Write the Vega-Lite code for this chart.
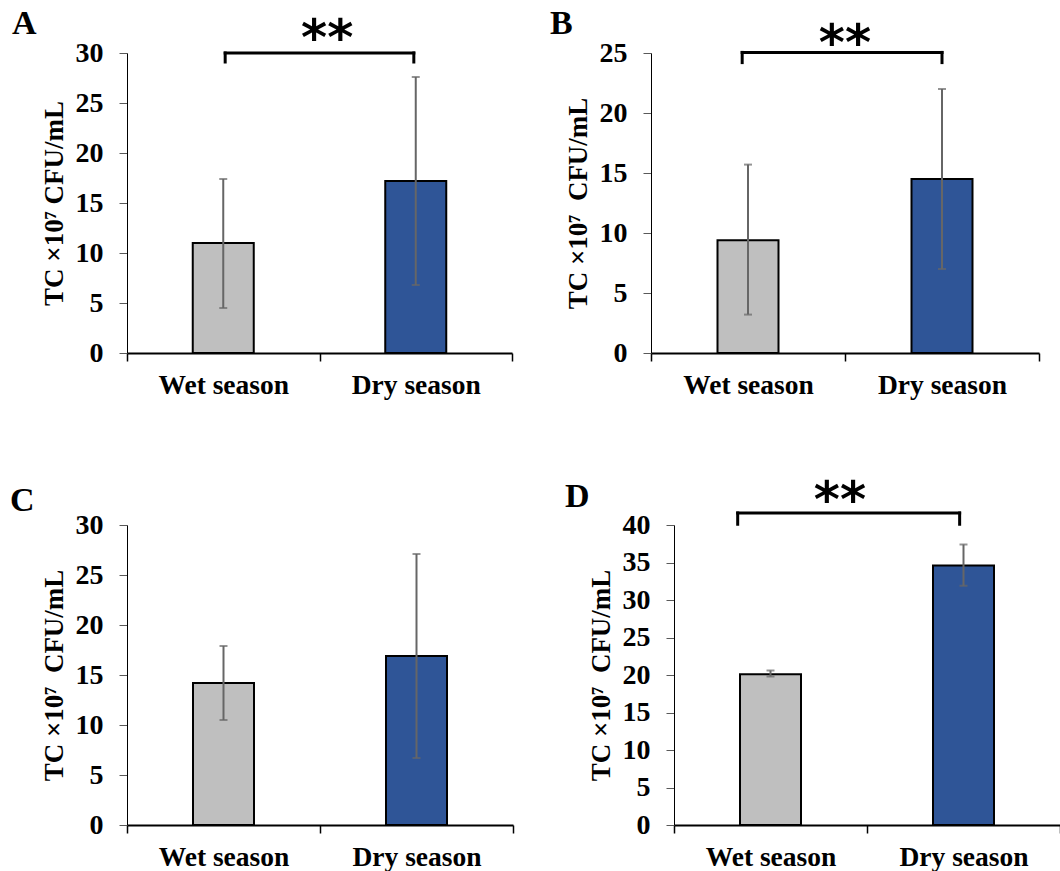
{
  "$schema": "https://vega.github.io/schema/vega-lite/v6.json",
  "background": "white",
  "padding": {"left": 10, "top": 6, "right": 0, "bottom": 0},
  "datasets": {
    "bars": [
      {"panel": "A", "season": "Wet season", "mean": 11.0, "lo": 4.5, "hi": 17.4},
      {"panel": "A", "season": "Dry season", "mean": 17.2, "lo": 6.8, "hi": 27.6},
      {"panel": "B", "season": "Wet season", "mean": 9.4, "lo": 3.2, "hi": 15.7},
      {"panel": "B", "season": "Dry season", "mean": 14.5, "lo": 7.0, "hi": 22.0},
      {"panel": "C", "season": "Wet season", "mean": 14.2, "lo": 10.5, "hi": 17.9},
      {"panel": "C", "season": "Dry season", "mean": 16.9, "lo": 6.7, "hi": 27.1},
      {"panel": "D", "season": "Wet season", "mean": 20.1, "lo": 19.8, "hi": 20.6},
      {"panel": "D", "season": "Dry season", "mean": 34.6, "lo": 31.9, "hi": 37.4}
    ],
    "brackets": [
      {"panel": "A", "left": "Wet season", "right": "Dry season", "top": 30.0, "bottom": 29.1, "label": "**", "at": "Dry season", "ly": 31.3},
      {"panel": "B", "left": "Wet season", "right": "Dry season", "top": 25.05, "bottom": 24.2, "label": "**", "at": "Dry season", "ly": 25.7},
      {"panel": "D", "left": "Wet season", "right": "Dry season", "top": 41.6, "bottom": 40.1, "label": "**", "at": "Wet season", "ly": 43.1}
    ]
  },
  "config": {
    "view": {"stroke": null},
    "font": "Liberation Serif",
    "title": {"font": "Liberation Serif", "fontSize": 34, "fontWeight": "bold", "color": "black", "anchor": "start", "frame": "group"},
    "axisY": {
      "domainColor": "black", "domainWidth": 1, "tickColor": "#595959", "tickWidth": 1, "tickSize": 8,
      "labelFont": "Liberation Serif", "labelFontSize": 28, "labelFontWeight": "bold", "labelColor": "black", "labelPadding": 16,
      "titleFont": "Liberation Serif", "titleFontSize": 27, "titleFontWeight": "bold", "titleColor": "black", "titlePadding": 7,
      "grid": false, "labelFlush": false, "labelOverlap": false
    },
    "axisX": {
      "domainColor": "black", "domainWidth": 2, "tickColor": "black", "tickWidth": 1.5, "tickSize": 8, "tickBand": "extent",
      "labelFont": "Liberation Serif", "labelFontSize": 27.5, "labelFontWeight": "bold", "labelColor": "black", "labelPadding": 10, "labelAngle": 0,
      "grid": false
    }
  },
  "spacing": 77,
  "vconcat": [
    {
      "bounds": "flush",
      "spacing": 139,
      "hconcat": [
        {
          "width": 385, "height": 300,
          "title": {"text": "A", "dx": -115, "offset": -26},
          "layer": [
            {
              "data": {"name": "bars"}, "transform": [{"filter": "datum.panel === 'A'"}],
              "mark": {"type": "bar", "width": 61, "stroke": "black", "strokeWidth": 2},
              "encoding": {
                "x": {"field": "season", "type": "nominal", "sort": null, "scale": {"domain": ["Wet season", "Dry season"], "paddingInner": 0, "paddingOuter": 0}, "axis": {"title": null}},
                "y": {"field": "mean", "type": "quantitative", "scale": {"domain": [0, 30], "nice": false}, "axis": {"values": [0, 5, 10, 15, 20, 25, 30], "title": "TC ×10⁷ CFU/mL"}},
                "fill": {"field": "season", "type": "nominal", "scale": {"domain": ["Wet season", "Dry season"], "range": ["#BFBFBF", "#2F5597"]}, "legend": null}
              }
            },
            {
              "data": {"name": "bars"}, "transform": [{"filter": "datum.panel === 'A'"}],
              "mark": {"type": "rule", "color": "#666666", "strokeWidth": 2},
              "encoding": {
                "x": {"field": "season", "type": "nominal", "sort": null, "scale": {"domain": ["Wet season", "Dry season"]}, "axis": {"title": null}},
                "y": {"field": "lo", "type": "quantitative", "scale": {"domain": [0, 30]}, "axis": {"values": [0, 5, 10, 15, 20, 25, 30], "title": "TC ×10⁷ CFU/mL"}},
                "y2": {"field": "hi"}
              }
            },
            {
              "data": {"name": "bars"}, "transform": [{"filter": "datum.panel === 'A'"}],
              "mark": {"type": "tick", "orient": "horizontal", "size": 8, "thickness": 2, "color": "#666666"},
              "encoding": {
                "x": {"field": "season", "type": "nominal", "sort": null, "scale": {"domain": ["Wet season", "Dry season"]}, "axis": {"title": null}},
                "y": {"field": "lo", "type": "quantitative", "scale": {"domain": [0, 30]}, "axis": {"values": [0, 5, 10, 15, 20, 25, 30], "title": "TC ×10⁷ CFU/mL"}}
              }
            },
            {
              "data": {"name": "bars"}, "transform": [{"filter": "datum.panel === 'A'"}],
              "mark": {"type": "tick", "orient": "horizontal", "size": 8, "thickness": 2, "color": "#666666"},
              "encoding": {
                "x": {"field": "season", "type": "nominal", "sort": null, "scale": {"domain": ["Wet season", "Dry season"]}, "axis": {"title": null}},
                "y": {"field": "hi", "type": "quantitative", "scale": {"domain": [0, 30]}, "axis": {"values": [0, 5, 10, 15, 20, 25, 30], "title": "TC ×10⁷ CFU/mL"}}
              }
            },
            {
              "data": {"name": "brackets"}, "transform": [{"filter": "datum.panel === 'A'"}],
              "mark": {"type": "rule", "color": "black", "strokeWidth": 3, "strokeCap": "square"},
              "encoding": {
                "x": {"field": "left", "type": "nominal", "sort": null, "scale": {"domain": ["Wet season", "Dry season"]}, "axis": {"title": null}, "bandPosition": 0.51},
                "x2": {"field": "right", "bandPosition": 0.49},
                "y": {"field": "top", "type": "quantitative", "scale": {"domain": [0, 30]}, "axis": {"values": [0, 5, 10, 15, 20, 25, 30], "title": "TC ×10⁷ CFU/mL"}}
              }
            },
            {
              "data": {"name": "brackets"}, "transform": [{"filter": "datum.panel === 'A'"}],
              "mark": {"type": "rule", "color": "black", "strokeWidth": 3, "strokeCap": "square"},
              "encoding": {
                "x": {"field": "left", "type": "nominal", "sort": null, "scale": {"domain": ["Wet season", "Dry season"]}, "axis": {"title": null}, "bandPosition": 0.51},
                "y": {"field": "top", "type": "quantitative", "scale": {"domain": [0, 30]}, "axis": {"values": [0, 5, 10, 15, 20, 25, 30], "title": "TC ×10⁷ CFU/mL"}},
                "y2": {"field": "bottom"}
              }
            },
            {
              "data": {"name": "brackets"}, "transform": [{"filter": "datum.panel === 'A'"}],
              "mark": {"type": "rule", "color": "black", "strokeWidth": 3, "strokeCap": "square"},
              "encoding": {
                "x": {"field": "right", "type": "nominal", "sort": null, "scale": {"domain": ["Wet season", "Dry season"]}, "axis": {"title": null}, "bandPosition": 0.49},
                "y": {"field": "top", "type": "quantitative", "scale": {"domain": [0, 30]}, "axis": {"values": [0, 5, 10, 15, 20, 25, 30], "title": "TC ×10⁷ CFU/mL"}},
                "y2": {"field": "bottom"}
              }
            },
            {
              "data": {"name": "brackets"}, "transform": [{"filter": "datum.panel === 'A'"}],
              "mark": {"type": "text", "font": "DejaVu Sans", "fontWeight": "bold", "fontSize": 50, "baseline": "middle", "align": "center", "color": "black"},
              "encoding": {
                "x": {"field": "at", "type": "nominal", "sort": null, "scale": {"domain": ["Wet season", "Dry season"]}, "axis": {"title": null}, "bandPosition": 0.04},
                "y": {"field": "ly", "type": "quantitative", "scale": {"domain": [0, 30]}, "axis": {"values": [0, 5, 10, 15, 20, 25, 30], "title": "TC ×10⁷ CFU/mL"}},
                "text": {"field": "label"}
              }
            }
          ]
        },
        {
          "width": 388, "height": 300,
          "title": {"text": "B", "dx": -101, "offset": -21},
          "layer": [
            {
              "data": {"name": "bars"}, "transform": [{"filter": "datum.panel === 'B'"}],
              "mark": {"type": "bar", "width": 61, "stroke": "black", "strokeWidth": 2},
              "encoding": {
                "x": {"field": "season", "type": "nominal", "sort": null, "scale": {"domain": ["Wet season", "Dry season"], "paddingInner": 0, "paddingOuter": 0}, "axis": {"title": null}},
                "y": {"field": "mean", "type": "quantitative", "scale": {"domain": [0, 25], "nice": false}, "axis": {"values": [0, 5, 10, 15, 20, 25], "title": "TC ×10⁷\u00a0 CFU/mL"}},
                "fill": {"field": "season", "type": "nominal", "scale": {"domain": ["Wet season", "Dry season"], "range": ["#BFBFBF", "#2F5597"]}, "legend": null}
              }
            },
            {
              "data": {"name": "bars"}, "transform": [{"filter": "datum.panel === 'B'"}],
              "mark": {"type": "rule", "color": "#666666", "strokeWidth": 2},
              "encoding": {
                "x": {"field": "season", "type": "nominal", "sort": null, "scale": {"domain": ["Wet season", "Dry season"]}, "axis": {"title": null}},
                "y": {"field": "lo", "type": "quantitative", "scale": {"domain": [0, 25]}, "axis": {"values": [0, 5, 10, 15, 20, 25], "title": "TC ×10⁷\u00a0 CFU/mL"}},
                "y2": {"field": "hi"}
              }
            },
            {
              "data": {"name": "bars"}, "transform": [{"filter": "datum.panel === 'B'"}],
              "mark": {"type": "tick", "orient": "horizontal", "size": 8, "thickness": 2, "color": "#666666"},
              "encoding": {
                "x": {"field": "season", "type": "nominal", "sort": null, "scale": {"domain": ["Wet season", "Dry season"]}, "axis": {"title": null}},
                "y": {"field": "lo", "type": "quantitative", "scale": {"domain": [0, 25]}, "axis": {"values": [0, 5, 10, 15, 20, 25], "title": "TC ×10⁷\u00a0 CFU/mL"}}
              }
            },
            {
              "data": {"name": "bars"}, "transform": [{"filter": "datum.panel === 'B'"}],
              "mark": {"type": "tick", "orient": "horizontal", "size": 8, "thickness": 2, "color": "#666666"},
              "encoding": {
                "x": {"field": "season", "type": "nominal", "sort": null, "scale": {"domain": ["Wet season", "Dry season"]}, "axis": {"title": null}},
                "y": {"field": "hi", "type": "quantitative", "scale": {"domain": [0, 25]}, "axis": {"values": [0, 5, 10, 15, 20, 25], "title": "TC ×10⁷\u00a0 CFU/mL"}}
              }
            },
            {
              "data": {"name": "brackets"}, "transform": [{"filter": "datum.panel === 'B'"}],
              "mark": {"type": "rule", "color": "black", "strokeWidth": 3, "strokeCap": "square"},
              "encoding": {
                "x": {"field": "left", "type": "nominal", "sort": null, "scale": {"domain": ["Wet season", "Dry season"]}, "axis": {"title": null}, "bandPosition": 0.47},
                "x2": {"field": "right", "bandPosition": 0.5},
                "y": {"field": "top", "type": "quantitative", "scale": {"domain": [0, 25]}, "axis": {"values": [0, 5, 10, 15, 20, 25], "title": "TC ×10⁷\u00a0 CFU/mL"}}
              }
            },
            {
              "data": {"name": "brackets"}, "transform": [{"filter": "datum.panel === 'B'"}],
              "mark": {"type": "rule", "color": "black", "strokeWidth": 3, "strokeCap": "square"},
              "encoding": {
                "x": {"field": "left", "type": "nominal", "sort": null, "scale": {"domain": ["Wet season", "Dry season"]}, "axis": {"title": null}, "bandPosition": 0.47},
                "y": {"field": "top", "type": "quantitative", "scale": {"domain": [0, 25]}, "axis": {"values": [0, 5, 10, 15, 20, 25], "title": "TC ×10⁷\u00a0 CFU/mL"}},
                "y2": {"field": "bottom"}
              }
            },
            {
              "data": {"name": "brackets"}, "transform": [{"filter": "datum.panel === 'B'"}],
              "mark": {"type": "rule", "color": "black", "strokeWidth": 3, "strokeCap": "square"},
              "encoding": {
                "x": {"field": "right", "type": "nominal", "sort": null, "scale": {"domain": ["Wet season", "Dry season"]}, "axis": {"title": null}, "bandPosition": 0.5},
                "y": {"field": "top", "type": "quantitative", "scale": {"domain": [0, 25]}, "axis": {"values": [0, 5, 10, 15, 20, 25], "title": "TC ×10⁷\u00a0 CFU/mL"}},
                "y2": {"field": "bottom"}
              }
            },
            {
              "data": {"name": "brackets"}, "transform": [{"filter": "datum.panel === 'B'"}],
              "mark": {"type": "text", "font": "DejaVu Sans", "fontWeight": "bold", "fontSize": 50, "baseline": "middle", "align": "center", "color": "black"},
              "encoding": {
                "x": {"field": "at", "type": "nominal", "sort": null, "scale": {"domain": ["Wet season", "Dry season"]}, "axis": {"title": null}, "bandPosition": 0},
                "y": {"field": "ly", "type": "quantitative", "scale": {"domain": [0, 25]}, "axis": {"values": [0, 5, 10, 15, 20, 25], "title": "TC ×10⁷\u00a0 CFU/mL"}},
                "text": {"field": "label"}
              }
            }
          ]
        }
      ]
    },
    {
      "bounds": "flush",
      "spacing": 161,
      "hconcat": [
        {
          "width": 386, "height": 300,
          "title": {"text": "C", "dx": -117, "offset": -7},
          "layer": [
            {
              "data": {"name": "bars"}, "transform": [{"filter": "datum.panel === 'C'"}],
              "mark": {"type": "bar", "width": 61, "stroke": "black", "strokeWidth": 2},
              "encoding": {
                "x": {"field": "season", "type": "nominal", "sort": null, "scale": {"domain": ["Wet season", "Dry season"], "paddingInner": 0, "paddingOuter": 0}, "axis": {"title": null}},
                "y": {"field": "mean", "type": "quantitative", "scale": {"domain": [0, 30], "nice": false}, "axis": {"values": [0, 5, 10, 15, 20, 25, 30], "title": "TC ×10⁷\u00a0 CFU/mL"}},
                "fill": {"field": "season", "type": "nominal", "scale": {"domain": ["Wet season", "Dry season"], "range": ["#BFBFBF", "#2F5597"]}, "legend": null}
              }
            },
            {
              "data": {"name": "bars"}, "transform": [{"filter": "datum.panel === 'C'"}],
              "mark": {"type": "rule", "color": "#666666", "strokeWidth": 2},
              "encoding": {
                "x": {"field": "season", "type": "nominal", "sort": null, "scale": {"domain": ["Wet season", "Dry season"]}, "axis": {"title": null}},
                "y": {"field": "lo", "type": "quantitative", "scale": {"domain": [0, 30]}, "axis": {"values": [0, 5, 10, 15, 20, 25, 30], "title": "TC ×10⁷\u00a0 CFU/mL"}},
                "y2": {"field": "hi"}
              }
            },
            {
              "data": {"name": "bars"}, "transform": [{"filter": "datum.panel === 'C'"}],
              "mark": {"type": "tick", "orient": "horizontal", "size": 8, "thickness": 2, "color": "#666666"},
              "encoding": {
                "x": {"field": "season", "type": "nominal", "sort": null, "scale": {"domain": ["Wet season", "Dry season"]}, "axis": {"title": null}},
                "y": {"field": "lo", "type": "quantitative", "scale": {"domain": [0, 30]}, "axis": {"values": [0, 5, 10, 15, 20, 25, 30], "title": "TC ×10⁷\u00a0 CFU/mL"}}
              }
            },
            {
              "data": {"name": "bars"}, "transform": [{"filter": "datum.panel === 'C'"}],
              "mark": {"type": "tick", "orient": "horizontal", "size": 8, "thickness": 2, "color": "#666666"},
              "encoding": {
                "x": {"field": "season", "type": "nominal", "sort": null, "scale": {"domain": ["Wet season", "Dry season"]}, "axis": {"title": null}},
                "y": {"field": "hi", "type": "quantitative", "scale": {"domain": [0, 30]}, "axis": {"values": [0, 5, 10, 15, 20, 25, 30], "title": "TC ×10⁷\u00a0 CFU/mL"}}
              }
            }
          ]
        },
        {
          "width": 386, "height": 300,
          "title": {"text": "D", "dx": -109, "offset": -37},
          "layer": [
            {
              "data": {"name": "bars"}, "transform": [{"filter": "datum.panel === 'D'"}],
              "mark": {"type": "bar", "width": 61, "stroke": "black", "strokeWidth": 2},
              "encoding": {
                "x": {"field": "season", "type": "nominal", "sort": null, "scale": {"domain": ["Wet season", "Dry season"], "paddingInner": 0, "paddingOuter": 0}, "axis": {"title": null}},
                "y": {"field": "mean", "type": "quantitative", "scale": {"domain": [0, 40], "nice": false}, "axis": {"values": [0, 5, 10, 15, 20, 25, 30, 35, 40], "title": "TC ×10⁷\u00a0 CFU/mL"}},
                "fill": {"field": "season", "type": "nominal", "scale": {"domain": ["Wet season", "Dry season"], "range": ["#BFBFBF", "#2F5597"]}, "legend": null}
              }
            },
            {
              "data": {"name": "bars"}, "transform": [{"filter": "datum.panel === 'D'"}],
              "mark": {"type": "rule", "color": "#666666", "strokeWidth": 2},
              "encoding": {
                "x": {"field": "season", "type": "nominal", "sort": null, "scale": {"domain": ["Wet season", "Dry season"]}, "axis": {"title": null}},
                "y": {"field": "lo", "type": "quantitative", "scale": {"domain": [0, 40]}, "axis": {"values": [0, 5, 10, 15, 20, 25, 30, 35, 40], "title": "TC ×10⁷\u00a0 CFU/mL"}},
                "y2": {"field": "hi"}
              }
            },
            {
              "data": {"name": "bars"}, "transform": [{"filter": "datum.panel === 'D'"}],
              "mark": {"type": "tick", "orient": "horizontal", "size": 8, "thickness": 2, "color": "#666666"},
              "encoding": {
                "x": {"field": "season", "type": "nominal", "sort": null, "scale": {"domain": ["Wet season", "Dry season"]}, "axis": {"title": null}},
                "y": {"field": "lo", "type": "quantitative", "scale": {"domain": [0, 40]}, "axis": {"values": [0, 5, 10, 15, 20, 25, 30, 35, 40], "title": "TC ×10⁷\u00a0 CFU/mL"}}
              }
            },
            {
              "data": {"name": "bars"}, "transform": [{"filter": "datum.panel === 'D'"}],
              "mark": {"type": "tick", "orient": "horizontal", "size": 8, "thickness": 2, "color": "#666666"},
              "encoding": {
                "x": {"field": "season", "type": "nominal", "sort": null, "scale": {"domain": ["Wet season", "Dry season"]}, "axis": {"title": null}},
                "y": {"field": "hi", "type": "quantitative", "scale": {"domain": [0, 40]}, "axis": {"values": [0, 5, 10, 15, 20, 25, 30, 35, 40], "title": "TC ×10⁷\u00a0 CFU/mL"}}
              }
            },
            {
              "data": {"name": "brackets"}, "transform": [{"filter": "datum.panel === 'D'"}],
              "mark": {"type": "rule", "color": "black", "strokeWidth": 3, "strokeCap": "square"},
              "encoding": {
                "x": {"field": "left", "type": "nominal", "sort": null, "scale": {"domain": ["Wet season", "Dry season"]}, "axis": {"title": null}, "bandPosition": 0.33},
                "x2": {"field": "right", "bandPosition": 0.48},
                "y": {"field": "top", "type": "quantitative", "scale": {"domain": [0, 40]}, "axis": {"values": [0, 5, 10, 15, 20, 25, 30, 35, 40], "title": "TC ×10⁷\u00a0 CFU/mL"}}
              }
            },
            {
              "data": {"name": "brackets"}, "transform": [{"filter": "datum.panel === 'D'"}],
              "mark": {"type": "rule", "color": "black", "strokeWidth": 3, "strokeCap": "square"},
              "encoding": {
                "x": {"field": "left", "type": "nominal", "sort": null, "scale": {"domain": ["Wet season", "Dry season"]}, "axis": {"title": null}, "bandPosition": 0.33},
                "y": {"field": "top", "type": "quantitative", "scale": {"domain": [0, 40]}, "axis": {"values": [0, 5, 10, 15, 20, 25, 30, 35, 40], "title": "TC ×10⁷\u00a0 CFU/mL"}},
                "y2": {"field": "bottom"}
              }
            },
            {
              "data": {"name": "brackets"}, "transform": [{"filter": "datum.panel === 'D'"}],
              "mark": {"type": "rule", "color": "black", "strokeWidth": 3, "strokeCap": "square"},
              "encoding": {
                "x": {"field": "right", "type": "nominal", "sort": null, "scale": {"domain": ["Wet season", "Dry season"]}, "axis": {"title": null}, "bandPosition": 0.48},
                "y": {"field": "top", "type": "quantitative", "scale": {"domain": [0, 40]}, "axis": {"values": [0, 5, 10, 15, 20, 25, 30, 35, 40], "title": "TC ×10⁷\u00a0 CFU/mL"}},
                "y2": {"field": "bottom"}
              }
            },
            {
              "data": {"name": "brackets"}, "transform": [{"filter": "datum.panel === 'D'"}],
              "mark": {"type": "text", "font": "DejaVu Sans", "fontWeight": "bold", "fontSize": 50, "baseline": "middle", "align": "center", "color": "black"},
              "encoding": {
                "x": {"field": "at", "type": "nominal", "sort": null, "scale": {"domain": ["Wet season", "Dry season"]}, "axis": {"title": null}, "bandPosition": 0.86},
                "y": {"field": "ly", "type": "quantitative", "scale": {"domain": [0, 40]}, "axis": {"values": [0, 5, 10, 15, 20, 25, 30, 35, 40], "title": "TC ×10⁷\u00a0 CFU/mL"}},
                "text": {"field": "label"}
              }
            }
          ]
        }
      ]
    }
  ]
}
